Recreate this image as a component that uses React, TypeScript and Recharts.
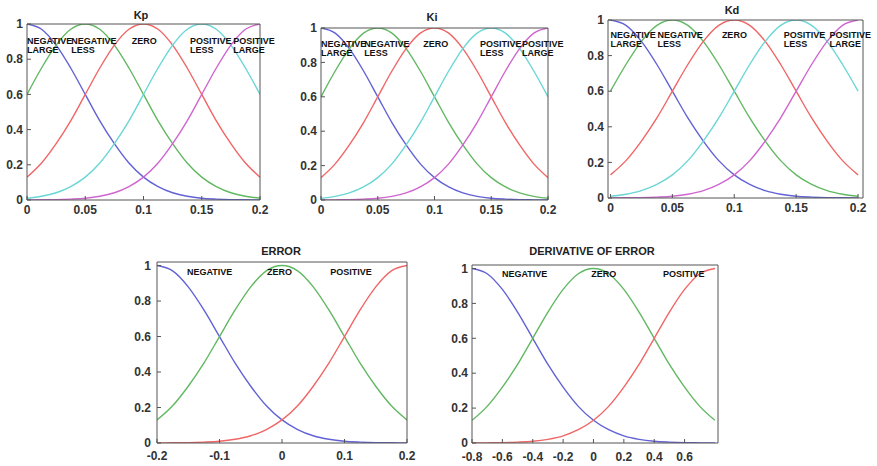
import React from "react";
import { LineChart, Line, XAxis, YAxis, ReferenceDot } from "recharts";

const gainX = [0, 0.0125, 0.025, 0.0375, 0.05, 0.0625, 0.075, 0.0875, 0.1, 0.1125, 0.125, 0.1375, 0.15, 0.1625, 0.175, 0.1875, 0.2];
const negLarge = [1, 0.97, 0.88, 0.75, 0.6, 0.45, 0.32, 0.21, 0.13, 0.076, 0.041, 0.021, 0.01, 0.005, 0.002, 0.001, 0];
const negLess = [0.6, 0.75, 0.88, 0.97, 1, 0.97, 0.88, 0.75, 0.6, 0.45, 0.32, 0.21, 0.13, 0.076, 0.041, 0.021, 0.01];
const zeroMf = [0.13, 0.21, 0.32, 0.45, 0.6, 0.75, 0.88, 0.97, 1, 0.97, 0.88, 0.75, 0.6, 0.45, 0.32, 0.21, 0.13];
const posLess = [0.01, 0.021, 0.041, 0.076, 0.13, 0.21, 0.32, 0.45, 0.6, 0.75, 0.88, 0.97, 1, 0.97, 0.88, 0.75, 0.6];
const posLarge = [0, 0.001, 0.002, 0.005, 0.01, 0.021, 0.041, 0.076, 0.13, 0.21, 0.32, 0.45, 0.6, 0.75, 0.88, 0.97, 1];

const errorX = [-0.2, -0.175, -0.15, -0.125, -0.1, -0.075, -0.05, -0.025, 0, 0.025, 0.05, 0.075, 0.1, 0.125, 0.15, 0.175, 0.2];
const derivX = [-0.8, -0.7, -0.6, -0.5, -0.4, -0.3, -0.2, -0.1, 0, 0.1, 0.2, 0.3, 0.4, 0.5, 0.6, 0.7, 0.8];
const inNegative = [1, 0.97, 0.88, 0.75, 0.6, 0.45, 0.32, 0.21, 0.13, 0.076, 0.041, 0.021, 0.01, 0.005, 0.002, 0.001, 0];
const inZero = [0.13, 0.21, 0.32, 0.45, 0.6, 0.75, 0.88, 0.97, 1, 0.97, 0.88, 0.75, 0.6, 0.45, 0.32, 0.21, 0.13];
const inPositive = [0, 0.001, 0.002, 0.005, 0.01, 0.021, 0.041, 0.076, 0.13, 0.21, 0.32, 0.45, 0.6, 0.75, 0.88, 0.97, 1];

const gainTicks = [0, 0.05, 0.1, 0.15, 0.2];
const errorTicks = [-0.2, -0.1, 0, 0.1, 0.2];
const derivTicks = [-0.8, -0.6, -0.4, -0.2, 0, 0.2, 0.4, 0.6];
const yTicks = [0, 0.2, 0.4, 0.6, 0.8, 1];

const gainLabels = [
  { x: 0, lines: ["NEGATIVE", "LARGE"] },
  { x: 0.038, lines: ["NEGATIVE", "LESS"] },
  { x: 0.09, lines: ["ZERO"] },
  { x: 0.14, lines: ["POSITIVE", "LESS"] },
  { x: 0.177, lines: ["POSITIVE", "LARGE"] },
];
const errorLabels = [
  { x: -0.152, lines: ["NEGATIVE"] },
  { x: -0.024, lines: ["ZERO"] },
  { x: 0.077, lines: ["POSITIVE"] },
];
const derivLabels = [
  { x: -0.603, lines: ["NEGATIVE"] },
  { x: -0.015, lines: ["ZERO"] },
  { x: 0.458, lines: ["POSITIVE"] },
];

const BLUE = "#6262d6";
const GREEN = "#62b862";
const RED = "#f06666";
const CYAN = "#6ad6d6";
const MAGENTA = "#cf66cf";
const FONT = "'Liberation Sans', Arial, sans-serif";

const gainRows = gainX.map((x, i) => ({
  x,
  nl: negLarge[i],
  nls: negLess[i],
  z: zeroMf[i],
  pls: posLess[i],
  pl: posLarge[i],
}));
const gainSeries = [
  { key: "nl", color: BLUE },
  { key: "nls", color: GREEN },
  { key: "z", color: RED },
  { key: "pls", color: CYAN },
  { key: "pl", color: MAGENTA },
];
const errorRows = errorX.map((x, i) => ({ x, n: inNegative[i], z: inZero[i], p: inPositive[i] }));
const derivRows = derivX.map((x, i) => ({ x, n: inNegative[i], z: inZero[i], p: inPositive[i] }));
const inputSeries = [
  { key: "n", color: BLUE },
  { key: "z", color: GREEN },
  { key: "p", color: RED },
];

type Panel = {
  title: string;
  titleX: number;
  titleY: number;
  left: number;
  top: number;
  w: number;
  h: number;
  xDomain: [number, number];
  yDomain: [number, number];
  xTicks: number[];
  rows: any[];
  series: { key: string; color: string }[];
  labels: { x: number; lines: string[] }[];
  labelY: number;
  xTickMargin: number;
  yTickMargin: number;
};

const panels: Panel[] = [
  { title: "Kp", titleX: 141, titleY: 15, left: 27, top: 24, w: 233, h: 176, xDomain: [0, 0.2], yDomain: [0, 1], xTicks: gainTicks, rows: gainRows, series: gainSeries, labels: gainLabels, labelY: 0.885, xTickMargin: 9, yTickMargin: 8 },
  { title: "Ki", titleX: 432, titleY: 17, left: 321, top: 28, w: 227, h: 172, xDomain: [0, 0.2], yDomain: [0, 1], xTicks: gainTicks, rows: gainRows, series: gainSeries, labels: gainLabels, labelY: 0.89, xTickMargin: 9, yTickMargin: 8 },
  { title: "Kd", titleX: 732, titleY: 10, left: 608, top: 20, w: 255, h: 178, xDomain: [-0.002, 0.204], yDomain: [0, 1], xTicks: gainTicks, rows: gainRows, series: gainSeries, labels: gainLabels, labelY: 0.9, xTickMargin: 9, yTickMargin: 8 },
  { title: "ERROR", titleX: 281, titleY: 251, left: 157, top: 262, w: 250, h: 181, xDomain: [-0.2, 0.2], yDomain: [0, 1.02], xTicks: errorTicks, rows: errorRows, series: inputSeries, labels: errorLabels, labelY: 0.945, xTickMargin: 12, yTickMargin: 10 },
  { title: "DERIVATIVE OF ERROR", titleX: 592, titleY: 251, left: 472, top: 265, w: 246, h: 178, xDomain: [-0.8, 0.82], yDomain: [0, 1.02], xTicks: derivTicks, rows: derivRows, series: inputSeries, labels: derivLabels, labelY: 0.95, xTickMargin: 13, yTickMargin: 8 },
];

const tickStyle = { fill: "#333", fontSize: 12, fontWeight: "bold" as const, fontFamily: FONT };

function MfPanel({ p }: { p: Panel }) {
  const ML = 28;
  const MR = 16;
  const MT = 6;
  const MB = 24;
  return (
    <>
      <div
        style={{
          position: "absolute",
          left: p.titleX - 80,
          top: p.titleY - 7,
          width: 160,
          textAlign: "center",
          fontFamily: FONT,
          fontWeight: "bold",
          fontSize: 11,
          lineHeight: "14px",
          color: "#222",
        }}
      >
        {p.title}
      </div>
      <div style={{ position: "absolute", left: p.left - ML, top: p.top - MT }}>
        <LineChart
          width={p.w + ML + MR}
          height={p.h + MT + MB}
          data={p.rows}
          margin={{ top: 0, right: 0, bottom: 0, left: 0 }}
        >
          <XAxis
            type="number"
            dataKey="x"
            domain={p.xDomain}
            ticks={p.xTicks}
            interval={0}
            allowDataOverflow
            height={MB}
            tickSize={-4}
            tickMargin={p.xTickMargin}
            stroke="#555"
            tick={tickStyle}
            tickFormatter={(v: number) => String(v)}
          />
          <XAxis
            xAxisId="top"
            orientation="top"
            type="number"
            dataKey="x"
            domain={p.xDomain}
            ticks={p.xTicks}
            interval={0}
            allowDataOverflow
            height={MT}
            tickSize={-4}
            tick={false}
            stroke="#555"
          />
          <YAxis
            type="number"
            domain={p.yDomain}
            ticks={yTicks}
            interval={0}
            allowDataOverflow
            width={ML}
            tickSize={-4}
            tickMargin={p.yTickMargin}
            stroke="#555"
            tick={tickStyle}
            tickFormatter={(v: number) => String(v)}
          />
          <YAxis
            yAxisId="right"
            orientation="right"
            type="number"
            domain={p.yDomain}
            ticks={yTicks}
            interval={0}
            allowDataOverflow
            width={MR}
            tickSize={-4}
            tick={false}
            stroke="#555"
          />
          {p.series.map((s) => (
            <Line
              key={s.key}
              type="monotone"
              dataKey={s.key}
              stroke={s.color}
              strokeWidth={1.4}
              dot={false}
              isAnimationActive={false}
            />
          ))}
          {p.labels.map((l, i) => (
            <ReferenceDot
              key={i}
              x={l.x}
              y={p.labelY}
              r={0}
              ifOverflow="visible"
              shape={(props: any) => (
                <text
                  x={props.cx}
                  y={props.cy}
                  fontFamily={FONT}
                  fontWeight="bold"
                  fontSize={9}
                  fill="#111"
                >
                  {l.lines.map((t, j) => (
                    <tspan key={j} x={props.cx} dy={j === 0 ? 0 : 9}>
                      {t}
                    </tspan>
                  ))}
                </text>
              )}
            />
          ))}
        </LineChart>
      </div>
    </>
  );
}

export default function App() {
  return (
    <div
      style={{
        position: "absolute",
        left: 0,
        top: 0,
        width: 877,
        height: 466,
        background: "#fff",
        overflow: "hidden",
      }}
    >
      {panels.map((p) => (
        <MfPanel key={p.title} p={p} />
      ))}
    </div>
  );
}
